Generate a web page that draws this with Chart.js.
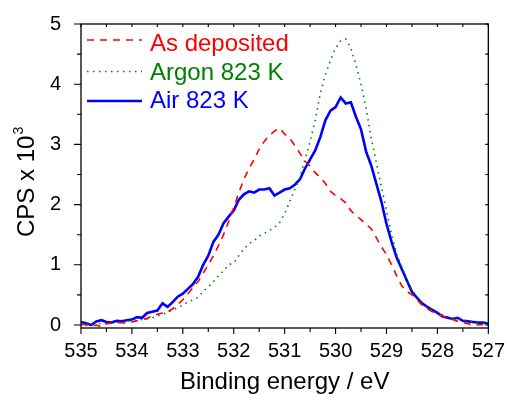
<!DOCTYPE html>
<html>
<head>
<meta charset="utf-8">
<script src="https://cdn.jsdelivr.net/npm/chart.js@4/dist/chart.umd.min.js"></script>
<style>
html,body{margin:0;padding:0;background:#fff;}
#wrap{width:508px;height:394px;position:relative;}
</style>
</head>
<body>
<div id="wrap"><canvas id="c" width="508" height="394"></canvas></div>
<script>
// Binding energy (eV), 535 -> 527 in 0.1 eV steps
const energy = [];
for (let i = 0; i <= 80; i++) energy.push(+(535 - i * 0.1).toFixed(1));

const asDeposited = [
0.02,0.00,-0.02,0.00,-0.03,0.02,0.03,0.04,0.04,0.03,
0.05,0.07,0.09,0.11,0.15,0.18,0.20,0.22,0.27,0.34,
0.42,0.52,0.62,0.72,0.86,1.00,1.15,1.32,1.50,1.72,
1.95,2.20,2.42,2.60,2.75,2.92,3.05,3.15,3.22,3.27,
3.17,3.10,2.98,2.85,2.72,2.64,2.53,2.45,2.35,2.22,
2.15,2.10,2.03,1.90,1.82,1.75,1.67,1.60,1.45,1.30,
1.17,1.00,0.82,0.65,0.56,0.50,0.42,0.33,0.27,0.22,
0.18,0.15,0.11,0.09,0.06,0.04,0.02,0.00,0.00,0.01,
0.00];

const argon823 = [
0.00,0.01,0.01,0.02,0.02,0.03,0.03,0.04,0.05,0.06,
0.07,0.08,0.09,0.10,0.12,0.15,0.18,0.21,0.25,0.29,
0.33,0.38,0.42,0.46,0.56,0.63,0.72,0.82,0.90,1.00,
1.03,1.15,1.27,1.35,1.40,1.48,1.52,1.57,1.62,1.70,
1.85,2.05,2.25,2.45,2.75,3.05,3.40,3.85,4.15,4.40,
4.60,4.72,4.75,4.60,4.32,4.00,3.60,3.10,2.70,2.30,
1.90,1.50,1.18,0.97,0.76,0.58,0.47,0.38,0.30,0.26,
0.22,0.17,0.14,0.12,0.10,0.08,0.07,0.05,0.04,0.03,
0.02];

const air823 = [
0.05,0.03,0.00,0.06,0.08,0.05,0.04,0.07,0.06,0.08,
0.09,0.13,0.12,0.20,0.22,0.24,0.36,0.30,0.38,0.47,
0.52,0.60,0.68,0.80,1.00,1.15,1.38,1.50,1.69,1.80,
1.90,2.08,2.17,2.22,2.20,2.25,2.25,2.27,2.15,2.20,
2.25,2.27,2.33,2.42,2.60,2.75,2.90,3.12,3.40,3.56,
3.62,3.78,3.68,3.70,3.46,3.25,2.88,2.65,2.35,2.05,
1.68,1.38,1.12,0.93,0.74,0.55,0.45,0.36,0.30,0.25,
0.20,0.14,0.12,0.10,0.12,0.07,0.06,0.05,0.04,0.04,
0.02];

const xTickValues = [535,534.5,534,533.5,533,532.5,532,531.5,531,530.5,530,529.5,529,528.5,528,527.5,527];
const yTickValues = [0,0.5,1,1.5,2,2.5,3,3.5,4,4.5,5];
const seriesLabels = ['As deposited','Argon 823 K','Air 823 K'];

const FONT = '"Liberation Sans", Arial, Helvetica, sans-serif';

function pts(vals){ return energy.map((e,i)=>({x:e,y:vals[i]})); }

const framePlugin = {
  id:'frame',
  afterDatasetsDraw(chart){
    const ctx = chart.ctx, a = chart.chartArea, xs = chart.scales.x, ys = chart.scales.y;
    ctx.save();
    ctx.strokeStyle = '#000';
    ctx.lineWidth = 1.3;
    ctx.strokeRect(a.left, a.top, a.right - a.left, a.bottom - a.top);
    ctx.lineWidth = 1.1;
    ctx.beginPath();
    xTickValues.forEach(v=>{
      const px = xs.getPixelForValue(v);
      const major = Number.isInteger(v);
      ctx.moveTo(px, a.bottom); ctx.lineTo(px, a.bottom + (major ? 6 : 4));
      ctx.moveTo(px, a.top); ctx.lineTo(px, a.top + 3);
    });
    yTickValues.forEach(v=>{
      const py = ys.getPixelForValue(v);
      const major = Number.isInteger(v);
      ctx.moveTo(a.left, py); ctx.lineTo(a.left - (major ? 7 : 4), py);
      ctx.moveTo(a.right, py); ctx.lineTo(a.right - 3, py);
    });
    ctx.stroke();

    // axis titles
    ctx.fillStyle = '#000';
    ctx.font = '24px ' + FONT;
    ctx.textAlign = 'center';
    ctx.textBaseline = 'alphabetic';
    ctx.fillText('Binding energy / eV', (a.left + a.right)/2, 389);

    ctx.save();
    ctx.translate(34, 237);
    ctx.rotate(-Math.PI/2);
    ctx.textAlign = 'left';
    const main = 'CPS x 10';
    ctx.fillText(main, 0, 0);
    const w = ctx.measureText(main).width;
    ctx.font = '14px ' + FONT;
    ctx.fillText('3', w + 1, -11);
    ctx.restore();

    // legend
    const ds = chart.data.datasets;
    const rows = [ {ly:40, ty:51}, {ly:71.5, ty:80}, {ly:101, ty:108} ];
    ds.forEach((d,i)=>{
      ctx.save();
      ctx.strokeStyle = d.borderColor;
      ctx.lineWidth = d.borderWidth;
      ctx.setLineDash(d.borderDash || []);
      ctx.beginPath();
      ctx.moveTo(87, rows[i].ly); ctx.lineTo(142, rows[i].ly);
      ctx.stroke();
      ctx.restore();
      ctx.fillStyle = d.borderColor;
      ctx.font = '24px ' + FONT;
      ctx.textAlign = 'left';
      ctx.fillText(d.label, 150, rows[i].ty);
    });
    ctx.restore();
  }
};

new Chart(document.getElementById('c'), {
  type:'line',
  data:{
    datasets:[
      {label:seriesLabels[0], data:pts(asDeposited), borderColor:'#ff0000', borderWidth:1.6, borderDash:[7,6], pointRadius:0, tension:0, fill:false},
      {label:seriesLabels[1], data:pts(argon823), borderColor:'#008000', borderWidth:1.6, borderDash:[1.5,4.5], pointRadius:0, tension:0, fill:false},
      {label:seriesLabels[2], data:pts(air823), borderColor:'#0000ff', borderWidth:2.6, pointRadius:0, tension:0, fill:false}
    ]
  },
  options:{
    responsive:false,
    animation:false,
    devicePixelRatio:1,
    layout:{padding:{left:0, top:21, right:15, bottom:0}},
    plugins:{legend:{display:false}, tooltip:{enabled:false}},
    scales:{
      x:{
        type:'linear', reverse:true, min:527, max:535,
        afterBuildTicks(s){ s.ticks = xTickValues.map(v=>({value:v})); },
        afterFit(s){ s.height = 66; },
        grid:{display:false}, border:{display:false},
        ticks:{font:{family:FONT, size:20}, color:'#000', padding:3, maxRotation:0, autoSkip:false,
          callback:(v)=> Number.isInteger(v) ? String(v) : ''}
      },
      y:{
        type:'linear', min:-0.05, max:5,
        afterBuildTicks(s){ s.ticks = yTickValues.map(v=>({value:v})); },
        afterFit(s){ s.width = 81; },
        grid:{display:false}, border:{display:false},
        ticks:{font:{family:FONT, size:20}, color:'#000', padding:12, autoSkip:false,
          callback:(v)=> Number.isInteger(v) ? String(v) : ''}
      }
    }
  },
  plugins:[framePlugin]
});
</script>
</body>
</html>
